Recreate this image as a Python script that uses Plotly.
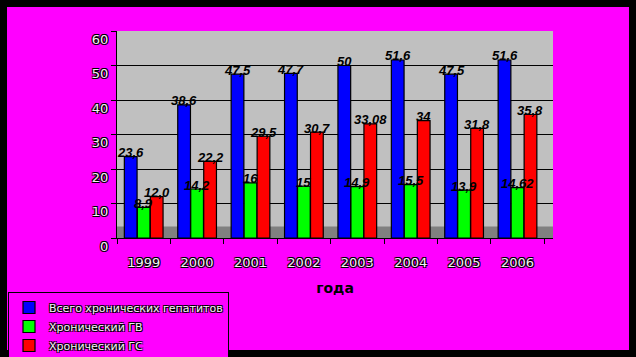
import plotly.graph_objects as go

years = [1999, 2000, 2001, 2002, 2003, 2004, 2005, 2006]
total_chronic = [23.6, 38.6, 47.5, 47.7, 50, 51.6, 47.5, 51.6]
chronic_hb = [8.9, 14.2, 16, 15, 14.9, 15.5, 13.9, 14.62]
chronic_hc = [12.0, 22.2, 29.5, 30.7, 33.08, 34, 31.8, 35.8]
series_names = ["Всего хронических гепатитов", "Хронический ГВ", "Хронический ГС"]
series_colors = ["#0000FF", "#00FF00", "#FF0000"]
y_ticks = [0, 10, 20, 30, 40, 50, 60]

W, H = 636, 357
ml, mr, mt, mb = 117, 83, 31, 119
pw, ph = W - ml - mr, H - mt - mb
cat_px = 53.4
extra_right = (pw - cat_px * len(years)) / cat_px
bargap = 0.27
n_series = 3
bar_px = cat_px * (1 - bargap) / n_series

outline = "1px 1px 0 #000, -1px -1px 0 #000, 1px -1px 0 #000, -1px 1px 0 #000"
light_font = dict(family="DejaVu Sans", size=13, color="#f2f2f2", shadow=outline)
label_font = dict(family="Liberation Sans", size=13, color="#000000",
                  weight="bold", style="italic")


def lab(v):
    return str(v).replace(".", ",")


fig = go.Figure()
series = [total_chronic, chronic_hb, chronic_hc]
for i, (name, vals, col) in enumerate(zip(series_names, series, series_colors)):
    fig.add_trace(go.Bar(
        x=years, y=vals, name=name,
        marker=dict(color=col, line=dict(color="#000000", width=1.2)),
    ))
    shift = (i - (n_series - 1) / 2) * bar_px
    for yr, v in zip(years, vals):
        fig.add_annotation(x=yr, y=v, xref="x", yref="y", text=lab(v),
                           showarrow=False, xshift=shift, yshift=4,
                           yanchor="middle", xanchor="center", font=label_font)

# floor strip behind bars
fig.add_shape(type="rect", xref="paper", yref="y", x0=0, x1=1, y0=0, y1=3.3,
              fillcolor="#808080", line=dict(width=0), layer="between")
# outer black frame
fig.add_shape(type="rect", xref="paper", yref="paper",
              x0=-ml / pw, x1=1 + mr / pw, y0=-mb / ph, y1=1 + mt / ph,
              line=dict(color="#000000", width=14), fillcolor="rgba(0,0,0,0)", layer="above")

fig.update_layout(
    width=W, height=H,
    margin=dict(l=ml, r=mr, t=mt, b=mb, autoexpand=False),
    paper_bgcolor="#FF00FF", plot_bgcolor="#C0C0C0",
    barmode="group", bargap=bargap, bargroupgap=0.02,
    showlegend=True,
    legend=dict(x=(8 - ml) / pw, y=(mt + ph - 292) / ph, xanchor="left", yanchor="top",
                bgcolor="#FF00FF", bordercolor="#000000", borderwidth=1,
                font=dict(family="DejaVu Sans", size=11, color="#f2f2f2", shadow=outline),
                itemwidth=30, tracegroupgap=0),
    xaxis=dict(type="linear", range=[years[0] - 0.5, years[-1] + 0.5 + extra_right],
               tickvals=years, ticktext=[str(y) for y in years],
               showline=True, linecolor="#000000", linewidth=1, ticks="",
               showgrid=False, zeroline=False, ticklabelstandoff=12,
               minor=dict(ticks="outside", tick0=years[0] - 0.5, dtick=1, ticklen=5,
                          tickcolor="#000000", showgrid=False),
               tickfont=light_font, automargin=False,
               title=dict(text="года", standoff=14,
                          font=dict(family="DejaVu Sans", size=14, color="#000000", weight="bold"))),
    yaxis=dict(range=[0, 60], tickvals=y_ticks, showline=True, linecolor="#000000",
               ticks="outside", tickcolor="#000000", ticklen=5, ticklabelshift=8,
               showgrid=True, gridcolor="#000000", gridwidth=1, zeroline=False,
               tickfont=light_font, automargin=False),
)

fig.write_html("out.html", config={"displayModeBar": False},
               post_script="document.body.style.margin='0';document.body.style.overflow='hidden';")
